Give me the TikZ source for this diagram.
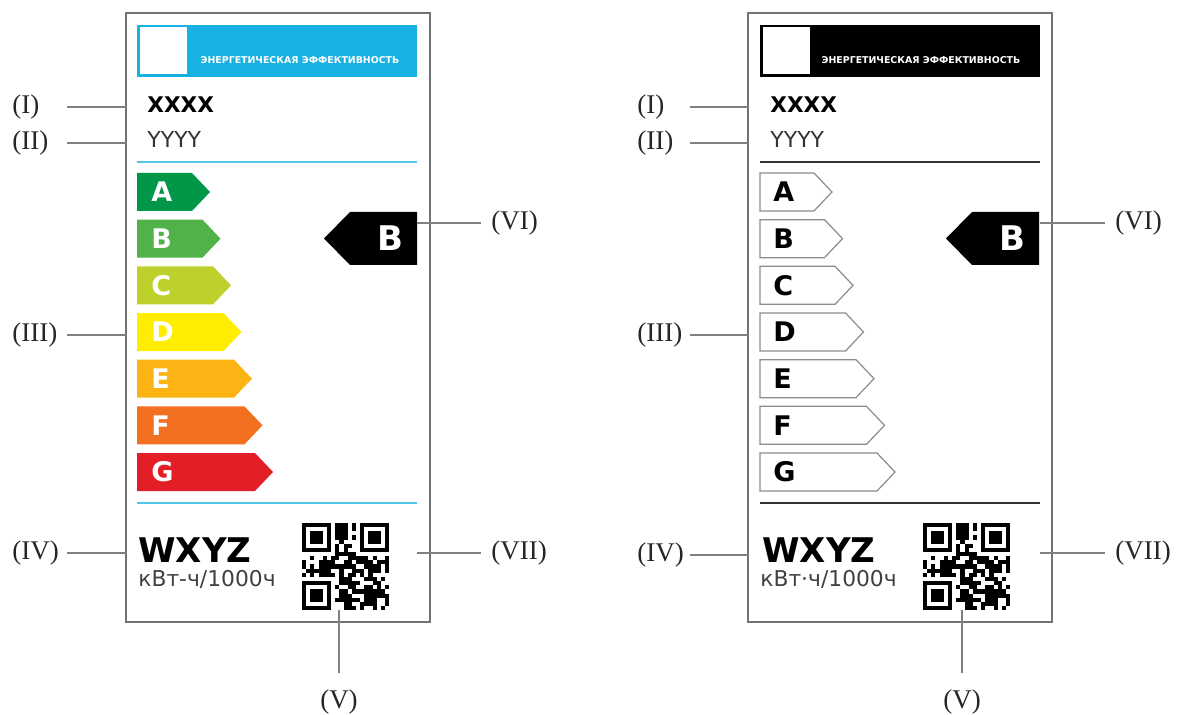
\documentclass[tikz,border=0pt]{standalone}
\usepackage{fontspec}
\setmainfont{Liberation Serif}
\newfontfamily\labelsans{DejaVu Sans}
\usetikzlibrary{positioning,calc}

\definecolor{eeblue}{RGB}{24,178,226}
\definecolor{clsA}{RGB}{0,152,72}
\definecolor{clsB}{RGB}{80,178,72}
\definecolor{clsC}{RGB}{190,208,44}
\definecolor{clsD}{RGB}{255,238,0}
\definecolor{clsE}{RGB}{252,180,20}
\definecolor{clsF}{RGB}{242,112,32}
\definecolor{clsG}{RGB}{228,30,38}

\tikzset{
  qrcode/.pic={
    \pgfmathsetseed{2718}
    \foreach \i in {0,...,20}{
      \foreach \j in {0,...,20}{
        \pgfmathtruncatemacro\bit{rnd+0.65}
        \ifnum\bit>0 \fill (\i*4.15,\j*4.15) rectangle ++(4.15,4.15);\fi
      }}
    \foreach \sx/\sy/\fx/\fy in {0/0/0/0,13/0/14/0,0/13/0/14}{
      \fill[white] (\sx*4.15,\sy*4.15) rectangle ++(8*4.15,8*4.15);
      \fill (\fx*4.15,\fy*4.15) rectangle ++(7*4.15,7*4.15);
      \fill[white] (\fx*4.15+4.15,\fy*4.15+4.15) rectangle ++(5*4.15,5*4.15);
      \fill (\fx*4.15+8.3,\fy*4.15+8.3) rectangle ++(3*4.15,3*4.15);
    }
  }
}

\begin{document}
\begin{tikzpicture}[x=0.5pt,y=-0.5pt,
  callout/.style={font=\fontsize{13.5}{13.5}\selectfont,text=black!85,inner sep=0pt},
  leader/.style={draw=black!50,line width=0.6pt},
  frameline/.style={draw=black!55,line width=1pt},
  headtext/.style={font=\labelsans\bfseries\fontsize{4.7}{5}\selectfont,text=white,inner sep=0pt},
  modelname/.style={anchor=base west,inner sep=0pt,font=\labelsans\bfseries\fontsize{10.8}{10.8}\selectfont},
  modeltext/.style={anchor=base west,inner sep=0pt,text=black!80,font=\labelsans\fontsize{11}{11}\selectfont},
  energy/.style={anchor=base west,inner sep=0pt,font=\labelsans\bfseries\fontsize{17}{17}\selectfont},
  unit/.style={anchor=base west,inner sep=0pt,text=black!75,font=\labelsans\fontsize{10.9}{10.9}\selectfont},
  barletter/.style={anchor=west,inner sep=0pt,font=\labelsans\bfseries\fontsize{13.5}{13.5}\selectfont},
  bigletter/.style={inner sep=0pt,text=white,font=\labelsans\bfseries\fontsize{17}{17}\selectfont}]
\useasboundingbox (0,0) rectangle (1180,715);
% colour label
\begin{scope}
  \draw[frameline] (126,13) coordinate (lfnw) rectangle (430,622);
  \fill[eeblue] (137,25) rectangle (417,77);
  \fill[white] (139.5,27.5) rectangle (187,74.5);
  \node[headtext] (lhead) at (300,60) {ЭНЕРГЕТИЧЕСКАЯ ЭФФЕКТИВНОСТЬ};
  \node[modelname] (lx) at (147,113) {XXXX};
  \node[modeltext] (ly) at (147,148) {YYYY};
  \draw[eeblue!75,line width=0.8pt] (137,162) -- (417,162);
  \foreach \cls/\col [count=\k from 0] in {A/clsA,B/clsB,C/clsC,D/clsD,E/clsE,F/clsF,G/clsG}{
    \pgfmathsetmacro\ytop{173+46.67*\k}
    \pgfmathsetmacro\tip{210+10.5*\k}
    \fill[\col] (137,\ytop) -- (\tip-18,\ytop) -- (\tip,\ytop+19) -- (\tip-18,\ytop+38) -- (137,\ytop+38) -- cycle;
    \node[barletter,text=white] (l\cls) at (151,\ytop+19) {\cls};
  }
  \fill (417,212) -- (350,212) -- (324,238.5) -- (350,265) -- (417,265) -- cycle;
  \node[bigletter] (lmark) at (390,238.5) {B};
  \draw[eeblue!75,line width=0.8pt] (137,503) -- (417,503);
  \node[energy] (lw) at (138,563) {WXYZ};
  \node[unit] (lu) at (138,587) {кВт-ч/1000ч};
  \pic (lqr) at (302,523) {qrcode};
  % callouts
  \coordinate (lcI) at (67,107);   \node[callout,anchor=west] (lI) at (12,107) {(I)};
  \coordinate (lcII) at (67,143);  \node[callout,anchor=west] (lII) at (12,143) {(II)};
  \coordinate (lcIII) at (67,335); \node[callout,anchor=west] (lIII) at (12,335) {(III)};
  \coordinate (lcIV) at (67,553);  \node[callout,anchor=west] (lIV) at (12,553) {(IV)};
  \foreach \c in {lcI,lcII,lcIII,lcIV} \draw[leader] (\c) -- (\c -| lfnw);
  \coordinate (lcVI) at (417,223);  \node[callout,anchor=west] (lVI) at (491,223) {(VI)};
  \coordinate (lcVII) at (417,553); \node[callout,anchor=west] (lVII) at (491,553) {(VII)};
  \draw[leader] (lcVI) -- ([xshift=-5pt]lVI.west);
  \draw[leader] (lcVII) -- ([xshift=-5pt]lVII.west);
  \coordinate (lcV) at (339,610);   \node[callout] (lV) at (339,702) {(V)};
  \draw[leader] (lcV) -- ([yshift=8pt]lV.north);
\end{scope}
% black and white label
\begin{scope}[shift={(622,0)}]
  \draw[frameline] (126,13) coordinate (rfnw) rectangle (430,622);
  \fill (138,25) rectangle (418,77);
  \fill[white] (140.5,27.5) rectangle (188,74.5);
  \node[headtext] (rhead) at (299,60) {ЭНЕРГЕТИЧЕСКАЯ ЭФФЕКТИВНОСТЬ};
  \node[modelname] (rx) at (148,113) {XXXX};
  \node[modeltext] (ry) at (148,148) {YYYY};
  \draw[black!80,line width=0.8pt] (138,162) -- (418,162);
  \foreach \cls [count=\k from 0] in {A,B,C,D,E,F,G}{
    \pgfmathsetmacro\ytop{173+46.67*\k}
    \pgfmathsetmacro\tip{210+10.5*\k}
    \draw[black!45,fill=white,line width=0.6pt] (138,\ytop) -- (\tip-18,\ytop) -- (\tip,\ytop+19) -- (\tip-18,\ytop+38) -- (138,\ytop+38) -- cycle;
    \node[barletter] (r\cls) at (151,\ytop+19) {\cls};
  }
  \fill (417,212) -- (350,212) -- (324,238.5) -- (350,265) -- (417,265) -- cycle;
  \node[bigletter] (rmark) at (390,238.5) {B};
  \draw[black!80,line width=0.8pt] (138,503) -- (418,503);
  \node[energy] (rw) at (140,563) {WXYZ};
  \node[unit] (ru) at (138,587) {кВт·ч/1000ч};
  \pic (rqr) at (301,523) {qrcode};
  % callouts
  \coordinate (rcI) at (68,107);   \node[callout,anchor=west] (rI) at (15,107) {(I)};
  \coordinate (rcII) at (68,143);  \node[callout,anchor=west] (rII) at (15,143) {(II)};
  \coordinate (rcIII) at (68,335); \node[callout,anchor=west] (rIII) at (15,335) {(III)};
  \coordinate (rcIV) at (68,555);  \node[callout,anchor=west] (rIV) at (15,555) {(IV)};
  \foreach \c in {rcI,rcII,rcIII,rcIV} \draw[leader] (\c) -- (\c -| rfnw);
  \coordinate (rcVI) at (418,223);  \node[callout,anchor=west] (rVI) at (493,223) {(VI)};
  \coordinate (rcVII) at (418,553); \node[callout,anchor=west] (rVII) at (493,553) {(VII)};
  \draw[leader] (rcVI) -- ([xshift=-5pt]rVI.west);
  \draw[leader] (rcVII) -- ([xshift=-5pt]rVII.west);
  \coordinate (rcV) at (340,610);   \node[callout] (rV) at (340,702) {(V)};
  \draw[leader] (rcV) -- ([yshift=8pt]rV.north);
\end{scope}
\end{tikzpicture}
\end{document}
